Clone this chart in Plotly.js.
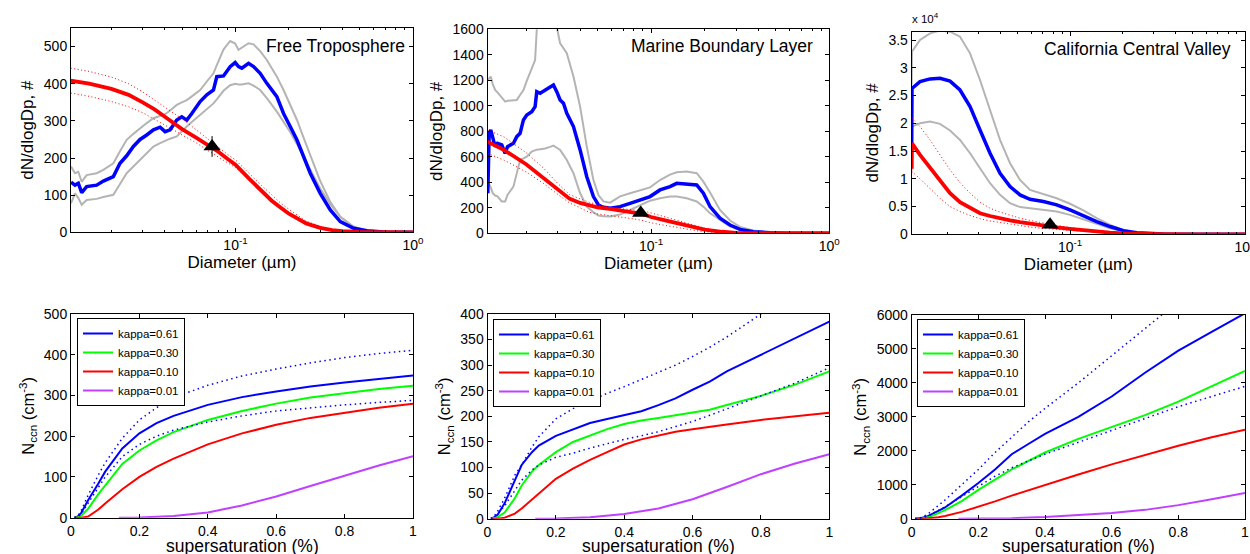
<!DOCTYPE html>
<html>
<head>
<meta charset="utf-8">
<script src="https://cdn.plot.ly/plotly-3.0.1.min.js"></script>
<style>html,body{margin:0;padding:0;background:#fff}#chart{width:1250px;height:554px}</style>
</head>
<body>
<div id="chart"></div>
<script>
// ---------- Top row: size distributions ----------
const panelTitles = ['Free Troposphere', 'Marine Boundary Layer', 'California Central Valley'];

// Free Troposphere
const D_FT = [0.01184, 0.01247, 0.01302, 0.01360, 0.01451, 0.01652, 0.01801, 0.02051, 0.02236, 0.02438, 0.02659, 0.02900, 0.03162, 0.03448, 0.03760, 0.04013, 0.04282, 0.04669, 0.04983, 0.05317, 0.05674, 0.06323, 0.06893, 0.07515, 0.07849, 0.08557, 0.09331, 0.09957, 0.1040, 0.1086, 0.1184, 0.1264, 0.1377, 0.1502, 0.1710, 0.1865, 0.2033, 0.2217, 0.2418, 0.2637, 0.3002, 0.3420, 0.3893, 0.4629, 0.5504, 0.6834, 1.0];
const blue_FT = [135, 127, 132, 107, 123, 127, 138, 150, 186, 206, 231, 250, 262, 276, 283, 271, 276, 302, 311, 302, 320, 352, 370, 383, 419, 421, 446, 457, 446, 442, 455, 446, 428, 401, 365, 320, 285, 249, 204, 159, 105, 60, 29, 11, 4, 1, 0];
const grayHi_FT = [177, 159, 163, 136, 154, 159, 168, 186, 218, 249, 265, 280, 294, 307, 313, 318, 328, 343, 350, 356, 366, 383, 406, 428, 450, 492, 515, 508, 491, 497, 509, 506, 488, 464, 419, 383, 345, 303, 255, 207, 138, 82, 42, 15, 4, 1, 0];
const grayLo_FT = [78, 105, 92, 74, 87, 90, 95, 101, 130, 159, 177, 195, 213, 231, 240, 247, 252, 258, 272, 285, 297, 316, 332, 347, 358, 381, 396, 400, 398, 398, 401, 395, 383, 361, 325, 298, 270, 238, 204, 168, 118, 76, 42, 15, 4, 1, 0];
const Dred_FT = [0.0118, 0.015, 0.02, 0.025, 0.03, 0.035, 0.04, 0.045, 0.05, 0.06, 0.07, 0.08, 0.09, 0.1, 0.12, 0.14, 0.16, 0.18, 0.2, 0.25, 0.3, 0.35, 0.4, 0.5, 0.6, 0.8, 1.0];
const red_FT = [408, 400, 386, 370, 350, 331, 311, 293, 278, 255, 235, 217, 198, 182, 143, 110, 85, 66, 50, 24, 12, 6, 3, 1, 0.3, 0, 0];
const redHi_FT = [442, 433, 418, 400, 378, 355, 337, 320, 306, 276, 251, 230, 210, 195, 157, 126, 101, 78, 62, 30, 16, 8, 5, 2, 1, 0, 0];
const redLo_FT = [375, 366, 352, 338, 322, 305, 289, 275, 262, 241, 220, 203, 187, 174, 142, 113, 90, 70, 54, 27, 14, 7, 4, 1, 0.5, 0, 0];
const tri_FT = {D: 0.0738, v: 231, err: 28};

// Marine Boundary Layer
const D_MBL = [0.01214, 0.01235, 0.01261, 0.01294, 0.01334, 0.01375, 0.01454, 0.01519, 0.01565, 0.01690, 0.01764, 0.01842, 0.01923, 0.02008, 0.02142, 0.02236, 0.02285, 0.02386, 0.02544, 0.02714, 0.02834, 0.02958, 0.03089, 0.03225, 0.03367, 0.03670, 0.04000, 0.04359, 0.04750, 0.05067, 0.05405, 0.05890, 0.06700, 0.07625, 0.08675, 0.09872, 0.1123, 0.1278, 0.1393, 0.1585, 0.1804, 0.1966, 0.2142, 0.2437, 0.2773, 0.3155, 0.3749, 0.4648, 0.5764, 1.0];
const blue_MBL = [314, 784, 810, 758, 680, 706, 693, 627, 680, 706, 758, 784, 889, 928, 954, 993, 1111, 1098, 1124, 1150, 1163, 1111, 1046, 1020, 941, 837, 654, 444, 288, 222, 204, 196, 209, 235, 261, 288, 340, 366, 392, 384, 379, 314, 209, 118, 65, 31, 13, 5, 1, 0];
const grayHi_MBL = [1203, 1215, 1229, 1170, 1124, 1105, 1068, 1033, 1040, 1046, 1046, 1085, 1124, 1196, 1290, 1359, 1600, 1640, 1660, 1650, 1630, 1620, 1490, 1450, 1412, 1229, 993, 680, 418, 300, 250, 240, 290, 314, 337, 360, 418, 460, 478, 484, 471, 405, 320, 183, 100, 50, 22, 6, 1, 0];
const grayLo_MBL = [366, 385, 360, 315, 296, 290, 250, 250, 301, 366, 470, 575, 588, 601, 641, 655, 656, 659, 665, 678, 688, 671, 654, 615, 575, 471, 314, 209, 165, 140, 133, 132, 147, 183, 222, 256, 275, 288, 288, 275, 250, 209, 157, 105, 55, 26, 8, 2, 0, 0];
const Dred_MBL = [0.0121, 0.015, 0.02, 0.025, 0.03, 0.035, 0.04, 0.045, 0.05, 0.06, 0.07, 0.08, 0.09, 0.1, 0.12, 0.14, 0.16, 0.18, 0.2, 0.25, 0.3, 0.4, 0.5, 0.7, 1.0];
const red_MBL = [719, 652, 540, 430, 345, 270, 238, 218, 203, 190, 178, 162, 150, 128, 102, 80, 56, 40, 29, 12, 4, 1, 0, 0, 0];
const redHi_MBL = [810, 755, 630, 510, 390, 303, 270, 243, 226, 203, 192, 186, 175, 160, 128, 100, 76, 55, 40, 14, 7, 2, 1, 0, 0];
const redLo_MBL = [627, 573, 480, 390, 305, 237, 200, 165, 152, 138, 125, 113, 100, 82, 62, 44, 30, 20, 12, 4, 2, 0, 0, 0, 0];
const tri_MBL = {D: 0.0875, v: 160};

// California Central Valley
const D_CCV = [0.01245, 0.0125, 0.01389, 0.01585, 0.01807, 0.02062, 0.02351, 0.02683, 0.03059, 0.03490, 0.03981, 0.04541, 0.05179, 0.05907, 0.07042, 0.08392, 0.1, 0.1192, 0.1420, 0.1693, 0.2018, 0.2404, 0.2865, 0.3415, 0.5293, 1.0];
const blue_CCV = [16400, 26300, 27500, 28000, 28100, 27600, 26000, 23000, 18800, 14600, 11000, 8600, 7100, 6300, 5900, 5300, 4400, 3300, 2300, 1400, 660, 300, 120, 60, 0, 0];
const grayHi_CCV = [27000, 32900, 35000, 36200, 36700, 36500, 35600, 32600, 27800, 22400, 17000, 12800, 9800, 8000, 7200, 6500, 5500, 4300, 2900, 1700, 800, 300, 100, 60, 0, 0];
const grayLo_CCV = [11500, 19400, 20000, 20300, 19900, 18700, 17000, 14600, 11900, 9200, 7100, 5600, 4900, 4700, 4500, 4100, 3500, 2700, 1900, 1100, 540, 240, 100, 60, 0, 0];
const red_CCV = [11800, 16400, 14300, 11900, 9650, 7400, 5800, 4700, 3800, 3300, 2850, 2500, 2200, 1900, 1580, 1260, 980, 720, 480, 300, 180, 100, 60, 30, 0, 0];
const redHi_CCV = [20900, 20900, 19400, 17000, 14300, 11600, 9300, 7400, 5800, 4700, 4000, 3450, 2900, 2500, 2000, 1600, 1200, 850, 540, 350, 220, 120, 60, 30, 0, 0];
const redLo_CCV = [11300, 11300, 10000, 8300, 6500, 5000, 4100, 3400, 2800, 2400, 2100, 1800, 1550, 1300, 1050, 880, 700, 500, 300, 200, 140, 100, 50, 20, 0, 0];
const tri_CCV = {D: 0.0769, v: 1700};

// ---------- Bottom row: CCN spectra ----------
const kappaLabels = ['kappa=0.61', 'kappa=0.30', 'kappa=0.10', 'kappa=0.01'];
const ss_FT = [0.01, 0.02, 0.03, 0.05, 0.08, 0.1, 0.15, 0.2, 0.25, 0.3, 0.4, 0.5, 0.6, 0.7, 0.8, 0.9, 1.0];
const k61_FT = [0, 3, 12, 43, 84, 113, 170, 207, 232, 250, 277, 296, 310, 322, 332, 341, 349];
const k30_FT = [0, 1, 5, 22, 58, 80, 132, 165, 190, 210, 240, 262, 280, 295, 306, 316, 324];
const k10_FT = [0, 0, 0, 3, 20, 35, 70, 100, 125, 145, 180, 207, 228, 245, 258, 270, 280];
const k61Hi_FT = [0, 5, 18, 55, 105, 135, 195, 240, 270, 295, 325, 348, 365, 380, 393, 403, 411];
const k61Lo_FT = [0, 2, 10, 35, 75, 100, 150, 180, 200, 215, 235, 250, 262, 270, 277, 283, 288];

const ss_MBL = [0.01, 0.02, 0.03, 0.05, 0.08, 0.1, 0.13, 0.15, 0.2, 0.25, 0.3, 0.35, 0.4, 0.45, 0.5, 0.55, 0.6, 0.65, 0.7, 0.8, 0.9, 1.0];
const k61_MBL = [0, 3, 8, 30, 75, 105, 130, 143, 162, 175, 187, 195, 203, 210, 222, 235, 252, 268, 288, 320, 353, 385];
const k30_MBL = [0, 1, 3, 12, 40, 65, 92, 105, 130, 150, 163, 175, 185, 192, 197, 202, 207, 213, 222, 240, 262, 288];
const k10_MBL = [0, 0, 0, 2, 10, 20, 37, 50, 78, 98, 115, 130, 145, 155, 163, 170, 175, 180, 184, 193, 200, 207];
const k61Hi_MBL = [0, 5, 15, 40, 85, 105, 140, 160, 195, 215, 230, 245, 258, 272, 285, 300, 317, 335, 355, 400, 440, 480];
const k61Lo_MBL = [0, 3, 10, 25, 55, 75, 95, 105, 120, 128, 138, 147, 155, 162, 170, 180, 190, 202, 215, 240, 265, 295];

const ss_CCV = [0.01, 0.02, 0.03, 0.05, 0.08, 0.1, 0.15, 0.2, 0.25, 0.3, 0.35, 0.4, 0.5, 0.6, 0.7, 0.8, 0.9, 1.0];
const k61_CCV = [0, 5, 20, 80, 220, 330, 680, 1050, 1450, 1900, 2200, 2500, 3000, 3600, 4300, 4950, 5500, 6050];
const k30_CCV = [0, 2, 8, 40, 160, 250, 520, 850, 1150, 1450, 1700, 1950, 2350, 2700, 3050, 3450, 3900, 4350];
const k10_CCV = [0, 0, 1, 10, 45, 80, 200, 350, 510, 680, 840, 1000, 1300, 1600, 1880, 2150, 2400, 2620];
const k61Hi_CCV = [0, 10, 40, 150, 380, 550, 1000, 1450, 1950, 2400, 2850, 3250, 4000, 4800, 5600, 6400, 7200, 8000];
const k61Lo_CCV = [0, 5, 20, 80, 230, 350, 650, 950, 1250, 1500, 1700, 1900, 2250, 2600, 2950, 3300, 3600, 3900];

const ss_k01 = [0.14, 0.2, 0.3, 0.4, 0.5, 0.6, 0.7, 0.8, 0.9, 1.0];
const k01_FT = [0, 0.5, 4, 13, 30, 52, 78, 103, 128, 151];
const k01_MBL = [0, 0.5, 3, 9, 20, 38, 62, 87, 108, 126];
const k01_CCV = [0, 2, 15, 50, 100, 170, 260, 400, 570, 760];

// ticks
const logTickVals = [0.1, 1];
const logTickText = ['10<sup>-1</sup>', '10<sup>0</sup>'];
const logMinorVals = [0.02, 0.03, 0.04, 0.05, 0.06, 0.07, 0.08, 0.09, 0.2, 0.3, 0.4, 0.5, 0.6, 0.7, 0.8, 0.9];
const ccvTickVals = [0, 5000, 10000, 15000, 20000, 25000, 30000, 35000];
const ccvTickText = ['0', '0.5', '1', '1.5', '2', '2.5', '3', '3.5'];

// ---------- styles ----------
const FONT = 'Liberation Sans, Arial, Helvetica, sans-serif';
const BLUE = '#0000FF', RED = '#FF0000', GREEN = '#00FF00', PURPLE = '#C040FF', GRAY = '#B4B4B4';
const traces = [];

function topPanel(ax, D, blue, gHi, gLo, Dr, red, rHi, rLo, tri) {
  const xa = 'x' + ax, ya = 'y' + ax;
  const base = {xaxis: xa, yaxis: ya, mode: 'lines', showlegend: false, hoverinfo: 'skip'};
  traces.push(Object.assign({x: D, y: gHi, line: {color: GRAY, width: 2}}, base));
  traces.push(Object.assign({x: D, y: gLo, line: {color: GRAY, width: 2}}, base));
  traces.push(Object.assign({x: D, y: blue, line: {color: BLUE, width: 3.5}}, base));
  traces.push(Object.assign({x: Dr, y: rHi, line: {color: RED, width: 1, dash: '1px,2.5px'}}, base));
  traces.push(Object.assign({x: Dr, y: rLo, line: {color: RED, width: 1, dash: '1px,2.5px'}}, base));
  traces.push(Object.assign({x: Dr, y: red, line: {color: RED, width: 3.8}}, base));
  const t = {x: [tri.D], y: [tri.v], xaxis: xa, yaxis: ya, mode: 'markers', showlegend: false, hoverinfo: 'skip',
    marker: {symbol: 'triangle-up', size: 15, color: '#000'}, cliponaxis: false};
  if (tri.err) t.error_y = {type: 'data', array: [tri.err], color: '#000', thickness: 1, width: 0};
  traces.push(t);
}
topPanel('', D_FT, blue_FT, grayHi_FT, grayLo_FT, Dred_FT, red_FT, redHi_FT, redLo_FT, tri_FT);
topPanel('2', D_MBL, blue_MBL, grayHi_MBL, grayLo_MBL, Dred_MBL, red_MBL, redHi_MBL, redLo_MBL, tri_MBL);
topPanel('3', D_CCV, blue_CCV, grayHi_CCV, grayLo_CCV, D_CCV, red_CCV, redHi_CCV, redLo_CCV, tri_CCV);

function bottomPanel(ax, leg, ss, k61, k30, k10, k01, hi, lo) {
  const xa = 'x' + ax, ya = 'y' + ax;
  const base = {xaxis: xa, yaxis: ya, mode: 'lines', hoverinfo: 'skip', legend: leg};
  traces.push(Object.assign({x: ss, y: k61, name: kappaLabels[0], showlegend: true, line: {color: BLUE, width: 2}}, base));
  traces.push(Object.assign({x: ss, y: k30, name: kappaLabels[1], showlegend: true, line: {color: GREEN, width: 2}}, base));
  traces.push(Object.assign({x: ss, y: k10, name: kappaLabels[2], showlegend: true, line: {color: RED, width: 2}}, base));
  traces.push(Object.assign({x: ss_k01, y: k01, name: kappaLabels[3], showlegend: true, line: {color: PURPLE, width: 2}}, base));
  traces.push(Object.assign({x: ss, y: hi, showlegend: false, line: {color: BLUE, width: 1.5, dash: '1.5px,3.5px'}}, base));
  traces.push(Object.assign({x: ss, y: lo, showlegend: false, line: {color: BLUE, width: 1.5, dash: '1.5px,3.5px'}}, base));
}
bottomPanel('4', 'legend', ss_FT, k61_FT, k30_FT, k10_FT, k01_FT, k61Hi_FT, k61Lo_FT);
bottomPanel('5', 'legend2', ss_MBL, k61_MBL, k30_MBL, k10_MBL, k01_MBL, k61Hi_MBL, k61Lo_MBL);
bottomPanel('6', 'legend3', ss_CCV, k61_CCV, k30_CCV, k10_CCV, k01_CCV, k61Hi_CCV, k61Lo_CCV);

// ---------- layout ----------
const W = 1250, H = 554;
function ax(extra) {
  return Object.assign({showline: true, linecolor: '#000', linewidth: 1, mirror: 'ticks', ticks: 'inside',
    ticklen: 4, tickwidth: 1, tickcolor: '#000', showgrid: false, zeroline: false, automargin: false,
    ticklabeloverflow: 'allow', fixedrange: true, tickfont: {family: FONT, size: 14, color: '#000'}}, extra);
}
const xdom = [[71 / W, 413 / W], [487.5 / W, 829.3 / W], [911.7 / W, 1245 / W]];
const ydomTop = [[1 - 232.3 / H, 1 - 28 / H], [1 - 233.3 / H, 1 - 29.3 / H], [1 - 234.3 / H, 1 - 31.7 / H]];
const ydomBot = [[1 - 517.7 / H, 1 - 314 / H], [1 - 518.7 / H, 1 - 314 / H], [1 - 518.7 / H, 1 - 315 / H]];
const leftEdges = [0.01184, 0.01209, 0.01245];

function logX(i, anchor) {
  return ax({type: 'log', domain: xdom[i], anchor: anchor, range: [Math.log10(leftEdges[i]), 0],
    tickmode: 'array', tickvals: logTickVals, ticktext: logTickText,
    minor: {ticks: 'inside', ticklen: 2, tickcolor: '#000', tickmode: 'array', tickvals: logMinorVals},
    title: {text: 'Diameter (\u00b5m)', font: {family: FONT, size: 17, color: '#000'}, standoff: 2}});
}
function linX(i, anchor) {
  return ax({domain: xdom[i], anchor: anchor, range: [0, 1], tickmode: 'linear', tick0: 0, dtick: 0.2});
}
const yTitleTop = {text: 'dN/dlogDp, #', font: {family: FONT, size: 17, color: '#000'}, standoff: 5};
const yTitleBot = {text: 'N<sub>ccn</sub> (cm<sup>-3</sup>)', font: {family: FONT, size: 16.5, color: '#000'}, standoff: 5};

const legendStyle = (x, y) => ({x: x, y: y, xref: 'paper', yref: 'paper', xanchor: 'left', yanchor: 'top',
  bgcolor: '#fff', bordercolor: '#000', borderwidth: 1, font: {family: FONT, size: 11.5, color: '#000'},
  tracegroupgap: 0, itemwidth: 30});

const ssTitle = (axName) => ({text: 'supersaturation (%)', xref: axName + ' domain', yref: 'paper', x: 0.5, y: 1 - 534 / H,
  xanchor: 'center', yanchor: 'top', showarrow: false, font: {family: FONT, size: 17.5, color: '#000'}});

const layout = {
  width: W, height: H, paper_bgcolor: '#fff', plot_bgcolor: '#fff',
  margin: {l: 0, r: 0, t: 0, b: 0}, font: {family: FONT, color: '#000'},
  xaxis: logX(0, 'y'), xaxis2: logX(1, 'y2'), xaxis3: logX(2, 'y3'),
  xaxis4: linX(0, 'y4'), xaxis5: linX(1, 'y5'), xaxis6: linX(2, 'y6'),
  yaxis: ax({domain: ydomTop[0], anchor: 'x', range: [0, 550], tickmode: 'linear', tick0: 0, dtick: 100, title: yTitleTop}),
  yaxis2: ax({domain: ydomTop[1], anchor: 'x2', range: [0, 1600], tickmode: 'linear', tick0: 0, dtick: 200, title: yTitleTop}),
  yaxis3: ax({domain: ydomTop[2], anchor: 'x3', range: [0, 36500], tickmode: 'array', tickvals: ccvTickVals, ticktext: ccvTickText, title: yTitleTop}),
  yaxis4: ax({domain: ydomBot[0], anchor: 'x4', range: [0, 500], tickmode: 'linear', tick0: 0, dtick: 100, title: yTitleBot}),
  yaxis5: ax({domain: ydomBot[1], anchor: 'x5', range: [0, 400], tickmode: 'linear', tick0: 0, dtick: 50, title: yTitleBot}),
  yaxis6: ax({domain: ydomBot[2], anchor: 'x6', range: [0, 6000], tickmode: 'linear', tick0: 0, dtick: 1000, title: yTitleBot}),
  legend: legendStyle(77 / W, 1 - 318 / H),
  legend2: legendStyle(493 / W, 1 - 319 / H),
  legend3: legendStyle(917 / W, 1 - 319 / H),
  annotations: [
    {text: panelTitles[0], xref: 'paper', yref: 'paper', x: 407 / W, y: 1 - 46 / H, xanchor: 'right', yanchor: 'middle', showarrow: false, font: {family: FONT, size: 17.5, color: '#000'}},
    {text: panelTitles[1], xref: 'paper', yref: 'paper', x: 815 / W, y: 1 - 46 / H, xanchor: 'right', yanchor: 'middle', showarrow: false, font: {family: FONT, size: 17.5, color: '#000'}},
    {text: panelTitles[2], xref: 'paper', yref: 'paper', x: 1233 / W, y: 1 - 49 / H, xanchor: 'right', yanchor: 'middle', showarrow: false, font: {family: FONT, size: 17.5, color: '#000'}},
    {text: 'x 10<sup>4</sup>', xref: 'paper', yref: 'paper', x: 910 / W, y: 1 - 18 / H, xanchor: 'left', yanchor: 'middle', showarrow: false, font: {family: FONT, size: 11.5, color: '#000'}},
    ssTitle('x4'), ssTitle('x5'), ssTitle('x6')
  ]
};

Plotly.newPlot('chart', traces, layout, {staticPlot: true, displayModeBar: false});
</script>
</body>
</html>
